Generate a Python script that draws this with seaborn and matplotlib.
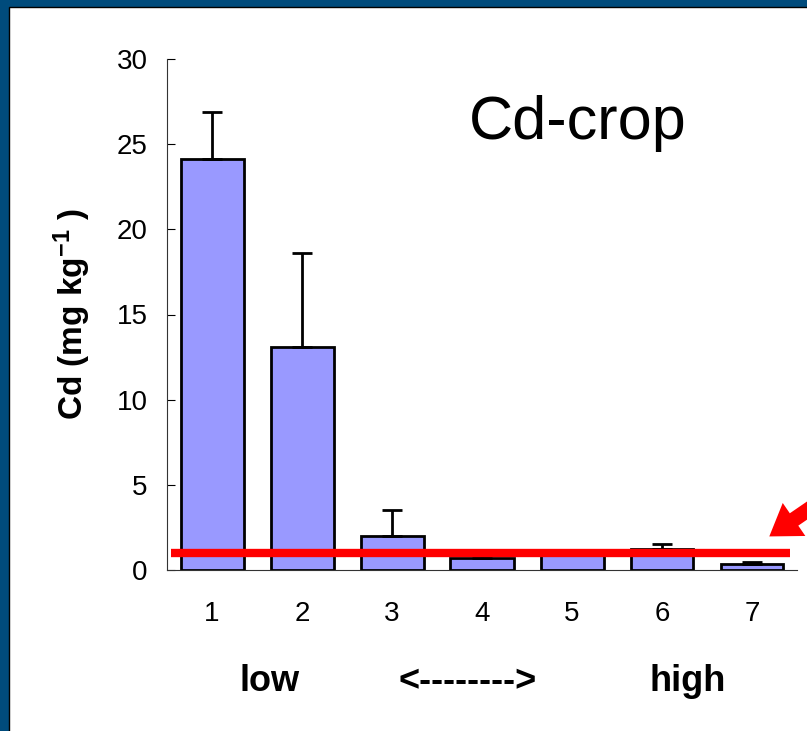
import matplotlib
matplotlib.use("Agg")
import matplotlib.pyplot as plt
import seaborn as sns
import pandas as pd
from matplotlib.patches import Rectangle, FancyArrowPatch

# data
groups = ["1", "2", "3", "4", "5", "6", "7"]
cd_mean = [24.1, 13.1, 2.0, 0.7, 0.9, 1.24, 0.35]
cd_err = [2.8, 5.5, 1.5, 0.3, 0.2, 0.26, 0.12]
limit_value = 1.0
y_ticks = [0, 5, 10, 15, 20, 25, 30]
scale_labels = ["low", "<-------->", "high"]

df = pd.DataFrame({"group": groups, "cd": cd_mean})

sns.set_style("ticks")
plt.rcParams["font.family"] = ["Liberation Sans", "DejaVu Sans"]
plt.rcParams["mathtext.fontset"] = "custom"
plt.rcParams["mathtext.rm"] = "Liberation Sans"
plt.rcParams["mathtext.bf"] = "Liberation Sans:bold"
plt.rcParams["text.color"] = "black"
plt.rcParams["axes.labelcolor"] = "black"

W, H = 807, 731
fig = plt.figure(figsize=(W / 100, H / 100), dpi=100)
fig.patch.set_facecolor("#004B7C")
# white slide panel with thin black edge (navy shows at left and top)
fig.patches.append(Rectangle((9 / W, -0.02), 1.05, 1.02 - 7 / H, transform=fig.transFigure,
                             facecolor="white", edgecolor="black", linewidth=1, zorder=-10))

ax = fig.add_axes([167 / W, 1 - 570 / H, 630 / W, 511 / H])
ax.set_facecolor("none")

sns.barplot(data=df, x="group", y="cd", color="#9999FF", saturation=1,
            edgecolor="black", linewidth=2, width=0.7, errorbar=None, ax=ax, zorder=2)

pos = list(range(len(groups)))
ax.errorbar(pos, cd_mean, yerr=[[0] * len(cd_err), cd_err], fmt="none",
            ecolor="black", elinewidth=2, capsize=7, capthick=2, zorder=3)

# reference limit
ax.hlines(limit_value, -0.46, 6.42, color="#FF0000", linewidth=6, zorder=5)

ax.set_xlim(-0.5, 6.5)
ax.set_ylim(0, 30)
ax.set_yticks(y_ticks)
ax.tick_params(axis="y", direction="in", length=6, width=0.8, pad=14, labelsize=20, colors="black")
ax.tick_params(axis="x", length=0, pad=22, labelsize=20, colors="black")
sns.despine(ax=ax)
for s in ["left", "bottom"]:
    ax.spines[s].set_linewidth(0.8)
    ax.spines[s].set_color("#333333")

ax.set_xlabel("")
ax.set_ylabel("Cd (mg kg$\\mathbf{^{-1}}$ )", fontsize=24, fontweight="bold")
ax.yaxis.set_label_coords(-0.117, 0.5)

fig.text(578 / W, 1 - 139 / H, "Cd-crop", fontsize=44, ha="center", va="baseline")

for label, xc in zip(scale_labels, [270, 468, 688]):
    fig.text(xc / W, 1 - 691 / H, label, fontsize=26, fontweight="bold",
             ha="center", va="baseline")

# red pointer arrow coming in from the right edge
fig.add_artist(FancyArrowPatch(
    (840 / W, 1 - 488 / H), (767 / W, 1 - 538 / H), transform=fig.transFigure,
    arrowstyle="simple,head_width=2.4,tail_width=0.9,head_length=1.8",
    mutation_scale=12, color="#FF0000", linewidth=0))

fig.savefig("out.png", dpi=100)
